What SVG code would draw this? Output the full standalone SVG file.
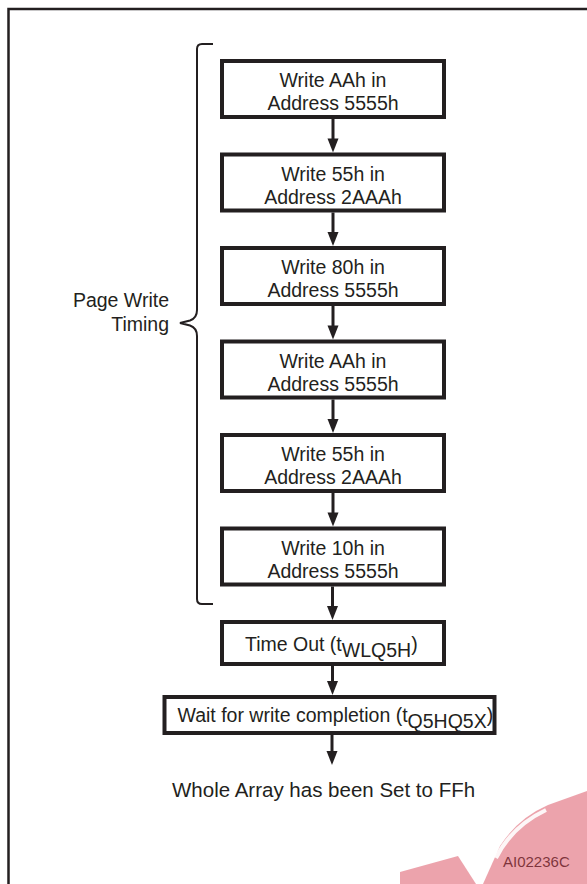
<svg xmlns="http://www.w3.org/2000/svg" width="587" height="884" viewBox="0 0 587 884">
<style>
.box{fill:#fff;stroke:#231f20;stroke-width:4}
.t{font-family:"Liberation Sans",Arial,sans-serif;font-size:19.5px;fill:#231f20}
.c{text-anchor:middle}
.ln{stroke:#231f20;stroke-width:3;fill:none}
.ah{fill:#231f20}
</style>
<rect width="587" height="884" fill="#fff"/>
<path d="M8.5 884 L8.5 9 L587 9" fill="none" stroke="#231f20" stroke-width="2.5"/>
<g id="connectors">
<line class="ln" x1="333" y1="119" x2="333" y2="140"/><polygon class="ah" points="327.5,138.5 338.5,138.5 333,152.5"/>
<line class="ln" x1="333" y1="212.5" x2="333" y2="234"/><polygon class="ah" points="327.5,232 338.5,232 333,246"/>
<line class="ln" x1="333" y1="306" x2="333" y2="327"/><polygon class="ah" points="327.5,325.5 338.5,325.5 333,339.5"/>
<line class="ln" x1="333" y1="399.5" x2="333" y2="421"/><polygon class="ah" points="327.5,419 338.5,419 333,433"/>
<line class="ln" x1="333" y1="493" x2="333" y2="514"/><polygon class="ah" points="327.5,512.5 338.5,512.5 333,526.5"/>
<line class="ln" x1="332.5" y1="586.5" x2="332.5" y2="608"/><polygon class="ah" points="327,606 338,606 332.5,620"/>
<line class="ln" x1="332.5" y1="666" x2="332.5" y2="683"/><polygon class="ah" points="327,681 338,681 332.5,695"/>
<line class="ln" x1="332" y1="735" x2="332" y2="753"/><polygon class="ah" points="326.5,751 337.5,751 332,765"/>
</g>
<g id="brace">
<path d="M213 44 L202 44 Q197 44 197 49 L197 310 Q197 318 190 320.5 L180 323 L190 325.5 Q197 328 197 336 L197 599 Q197 604 202 604 L213 604" fill="none" stroke="#231f20" stroke-width="2"/>
</g>
<g id="label-page-write">
<text class="t" x="169" y="306.5" text-anchor="end">Page Write</text>
<text class="t" x="169" y="330.5" text-anchor="end">Timing</text>
</g>
<g id="n1"><rect class="box" x="222" y="61" width="222" height="56"/>
<text class="t c" x="333" y="87">Write AAh in</text><text class="t c" x="333" y="110">Address 5555h</text></g>
<g id="n2"><rect class="box" x="222" y="154.5" width="222" height="56"/>
<text class="t c" x="333" y="180.5">Write 55h in</text><text class="t c" x="333" y="203.5">Address 2AAAh</text></g>
<g id="n3"><rect class="box" x="222" y="248" width="222" height="56"/>
<text class="t c" x="333" y="274">Write 80h in</text><text class="t c" x="333" y="297">Address 5555h</text></g>
<g id="n4"><rect class="box" x="222" y="341.5" width="222" height="56"/>
<text class="t c" x="333" y="367.5">Write AAh in</text><text class="t c" x="333" y="390.5">Address 5555h</text></g>
<g id="n5"><rect class="box" x="222" y="435" width="222" height="56"/>
<text class="t c" x="333" y="461">Write 55h in</text><text class="t c" x="333" y="484">Address 2AAAh</text></g>
<g id="n6"><rect class="box" x="222" y="528.5" width="222" height="56"/>
<text class="t c" x="333" y="554.5">Write 10h in</text><text class="t c" x="333" y="577.5">Address 5555h</text></g>
<g id="n7"><rect class="box" x="222" y="622" width="222" height="42"/>
<text class="t" x="245" y="651">Time Out (t<tspan dy="6">WLQ5H</tspan><tspan dy="-6">)</tspan></text></g>
<g id="n8"><rect class="box" x="164.5" y="697" width="330" height="36"/>
<text class="t" x="177.5" y="722">Wait for write completion (t<tspan dy="6">Q5HQ5X</tspan><tspan dy="-6">)</tspan></text></g>
<g id="end"><text class="t" x="172" y="797" style="font-size:20.5px">Whole Array has been Set to FFh</text></g>
<text x="503" y="867" font-family="Liberation Sans, Arial, sans-serif" font-size="15" fill="#231f20">AI02236C</text>
<g id="watermark" fill="#d9485a" fill-opacity="0.5">
<path d="M483 884 L500 846 Q518 818 548 805 L587 791 L587 884 Z"/>
<path d="M400 872 L458 856 L476 884 L400 884 Z"/>
</g>
<path d="M496 858 Q512 826 546 810" fill="none" stroke="#fff" stroke-width="4" stroke-opacity="0.9"/>
</svg>
